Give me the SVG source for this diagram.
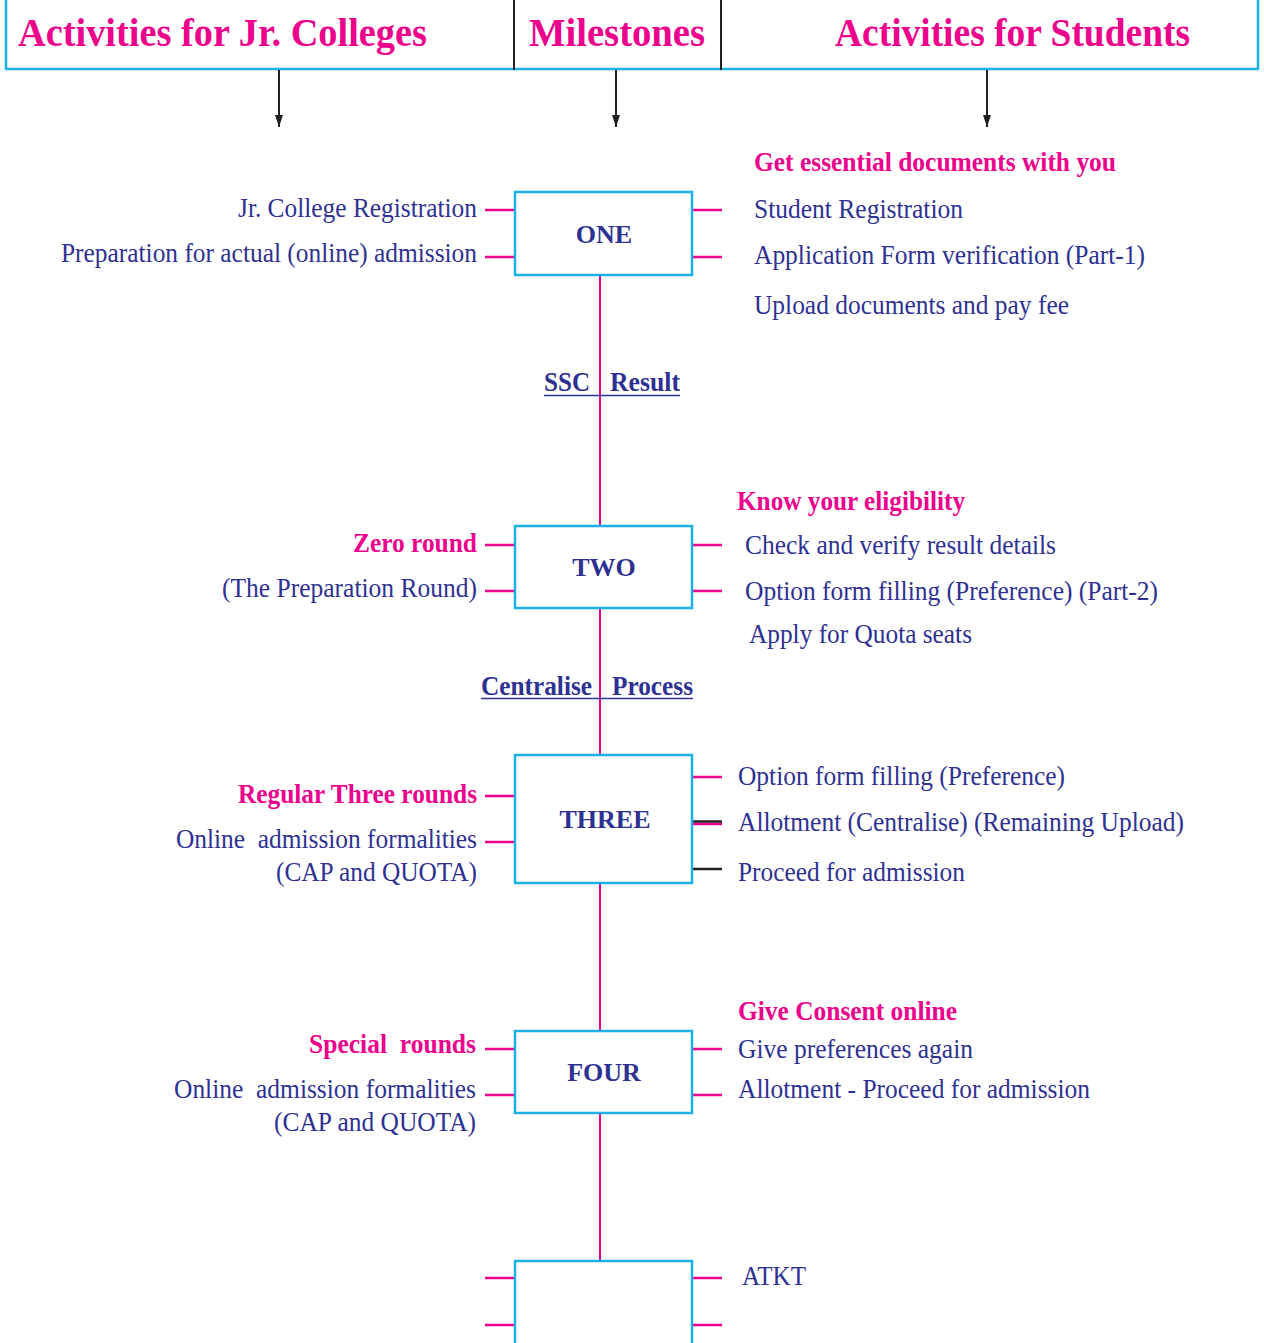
<svg xmlns="http://www.w3.org/2000/svg" width="1264" height="1343" viewBox="0 0 1264 1343">
<style>
text{white-space:pre}
.hd{font-family:"Liberation Serif",serif;font-weight:bold;font-size:39px;fill:#EC008C}
.t{font-family:"Liberation Serif",serif;font-size:26.5px;fill:#2E3192}
.p{font-family:"Liberation Serif",serif;font-weight:bold;font-size:26.5px;fill:#EC008C}
.b{font-family:"Liberation Serif",serif;font-weight:bold;font-size:26px;fill:#2E3192;text-anchor:middle}
.u{font-family:"Liberation Serif",serif;font-weight:bold;font-size:26.5px;fill:#2E3192}
.r{text-anchor:end}
.box{fill:#fff;stroke:#1BB0E6;stroke-width:2.5}
.stub{stroke:#EC008C;stroke-width:2.5}
.blk{stroke:#231F20;stroke-width:2.5}
.vl{stroke:#EC008C;stroke-width:2}
.arr{stroke:#231F20;stroke-width:2}
</style>
<defs>
<marker id="ah" viewBox="0 0 12 8" refX="12" refY="4" markerWidth="12" markerHeight="8" markerUnits="userSpaceOnUse" orient="auto">
<path d="M0,0 L12,4 L0,8 Z" fill="#231F20"/>
</marker>
</defs>
<rect width="1264" height="1343" fill="#fff"/>
<g id="header">
<rect x="6" y="-5" width="1252" height="74" fill="none" stroke="#1BB0E6" stroke-width="2.5"/>
<line x1="514" y1="0" x2="514" y2="70" stroke="#231F20" stroke-width="2"/>
<line x1="721" y1="0" x2="721" y2="70" stroke="#231F20" stroke-width="2"/>
<text class="hd" x="18" y="46" textLength="409" lengthAdjust="spacingAndGlyphs">Activities for Jr. Colleges</text>
<text class="hd" x="529" y="46" textLength="176" lengthAdjust="spacingAndGlyphs">Milestones</text>
<text class="hd" x="835" y="46" textLength="355" lengthAdjust="spacingAndGlyphs">Activities for Students</text>
</g>
<g id="connectors">
<line class="arr" x1="279" y1="70" x2="279" y2="127" marker-end="url(#ah)"/>
<line class="arr" x1="616" y1="70" x2="616" y2="127" marker-end="url(#ah)"/>
<line class="arr" x1="987" y1="70" x2="987" y2="127" marker-end="url(#ah)"/>
<line class="vl" x1="600" y1="275" x2="600" y2="526"/>
<line class="vl" x1="600" y1="608" x2="600" y2="755"/>
<line class="vl" x1="600" y1="883" x2="600" y2="1031"/>
<line class="vl" x1="600" y1="1113" x2="600" y2="1261"/>
<line class="stub" x1="485" y1="210" x2="515" y2="210"/>
<line class="stub" x1="485" y1="257" x2="515" y2="257"/>
<line class="stub" x1="692" y1="210" x2="722" y2="210"/>
<line class="stub" x1="692" y1="257" x2="722" y2="257"/>
<line class="stub" x1="485" y1="545" x2="515" y2="545"/>
<line class="stub" x1="485" y1="591" x2="515" y2="591"/>
<line class="stub" x1="692" y1="545" x2="722" y2="545"/>
<line class="stub" x1="692" y1="591" x2="722" y2="591"/>
<line class="stub" x1="485" y1="796" x2="515" y2="796"/>
<line class="stub" x1="485" y1="842" x2="515" y2="842"/>
<line class="stub" x1="692" y1="777" x2="722" y2="777"/>
<line class="stub" x1="692" y1="824" x2="722" y2="824"/>
<line class="blk" x1="692" y1="821.5" x2="722" y2="821.5"/>
<line class="blk" x1="692" y1="869" x2="722" y2="869"/>
<line class="stub" x1="485" y1="1049" x2="515" y2="1049"/>
<line class="stub" x1="485" y1="1095" x2="515" y2="1095"/>
<line class="stub" x1="692" y1="1049" x2="722" y2="1049"/>
<line class="stub" x1="692" y1="1095" x2="722" y2="1095"/>
<line class="stub" x1="485" y1="1278" x2="515" y2="1278"/>
<line class="stub" x1="485" y1="1325" x2="515" y2="1325"/>
<line class="stub" x1="692" y1="1278" x2="722" y2="1278"/>
<line class="stub" x1="692" y1="1325" x2="722" y2="1325"/>
</g>
<g id="node-one">
<rect class="box" x="515" y="192" width="177" height="83"/>
<text class="b" x="604" y="243">ONE</text>
</g>
<g id="node-two">
<rect class="box" x="515" y="526" width="177" height="82"/>
<text class="b" x="604" y="576">TWO</text>
</g>
<g id="node-three">
<rect class="box" x="515" y="755" width="177" height="128"/>
<text class="b" x="605" y="828">THREE</text>
</g>
<g id="node-four">
<rect class="box" x="515" y="1031" width="177" height="82"/>
<text class="b" x="604" y="1081">FOUR</text>
</g>
<g id="node-five">
<rect class="box" x="515" y="1261" width="177" height="84"/>
</g>
<g id="labels-one">
<text class="t r" x="477" y="217" textLength="239" lengthAdjust="spacingAndGlyphs">Jr. College Registration</text>
<text class="t r" x="477" y="262" textLength="416" lengthAdjust="spacingAndGlyphs">Preparation for actual (online) admission</text>
<text class="p" x="754" y="171" textLength="362" lengthAdjust="spacingAndGlyphs">Get essential documents with you</text>
<text class="t" x="754" y="218" textLength="209" lengthAdjust="spacingAndGlyphs">Student Registration</text>
<text class="t" x="754" y="264" textLength="391" lengthAdjust="spacingAndGlyphs">Application Form verification (Part-1)</text>
<text class="t" x="754" y="314" textLength="315" lengthAdjust="spacingAndGlyphs">Upload documents and pay fee</text>
</g>
<g id="milestone-ssc">
<text class="u" x="544" y="391" textLength="46" lengthAdjust="spacingAndGlyphs">SSC</text>
<text class="u" x="610" y="391" textLength="70" lengthAdjust="spacingAndGlyphs">Result</text>
<line x1="544" y1="395.5" x2="680" y2="395.5" stroke="#2E3192" stroke-width="1.5"/>
</g>
<g id="labels-two">
<text class="p r" x="477" y="552" textLength="124" lengthAdjust="spacingAndGlyphs">Zero round</text>
<text class="t r" x="477" y="597" textLength="255" lengthAdjust="spacingAndGlyphs">(The Preparation Round)</text>
<text class="p" x="737" y="510" textLength="228" lengthAdjust="spacingAndGlyphs">Know your eligibility</text>
<text class="t" x="745" y="554" textLength="311" lengthAdjust="spacingAndGlyphs">Check and verify result details</text>
<text class="t" x="745" y="600" textLength="413" lengthAdjust="spacingAndGlyphs">Option form filling (Preference) (Part-2)</text>
<text class="t" x="749" y="643" textLength="223" lengthAdjust="spacingAndGlyphs">Apply for Quota seats</text>
</g>
<g id="milestone-centralise">
<text class="u" x="481" y="695" textLength="111" lengthAdjust="spacingAndGlyphs">Centralise</text>
<text class="u" x="612" y="695" textLength="81" lengthAdjust="spacingAndGlyphs">Process</text>
<line x1="481" y1="698.5" x2="693" y2="698.5" stroke="#2E3192" stroke-width="1.5"/>
</g>
<g id="labels-three">
<text class="p r" x="477" y="803" textLength="239" lengthAdjust="spacingAndGlyphs">Regular Three rounds</text>
<text class="t r" x="477" y="848" textLength="301" lengthAdjust="spacingAndGlyphs">Online  admission formalities</text>
<text class="t r" x="477" y="881" textLength="201" lengthAdjust="spacingAndGlyphs">(CAP and QUOTA)</text>
<text class="t" x="738" y="785" textLength="327" lengthAdjust="spacingAndGlyphs">Option form filling (Preference)</text>
<text class="t" x="738" y="831" textLength="446" lengthAdjust="spacingAndGlyphs">Allotment (Centralise) (Remaining Upload)</text>
<text class="t" x="738" y="881" textLength="227" lengthAdjust="spacingAndGlyphs">Proceed for admission</text>
</g>
<g id="labels-four">
<text class="p r" x="476" y="1053" textLength="167" lengthAdjust="spacingAndGlyphs">Special  rounds</text>
<text class="t r" x="476" y="1098" textLength="302" lengthAdjust="spacingAndGlyphs">Online  admission formalities</text>
<text class="t r" x="476" y="1131" textLength="202" lengthAdjust="spacingAndGlyphs">(CAP and QUOTA)</text>
<text class="p" x="738" y="1020" textLength="219" lengthAdjust="spacingAndGlyphs">Give Consent online</text>
<text class="t" x="738" y="1058" textLength="235" lengthAdjust="spacingAndGlyphs">Give preferences again</text>
<text class="t" x="738" y="1098" textLength="352" lengthAdjust="spacingAndGlyphs">Allotment - Proceed for admission</text>
</g>
<g id="labels-five">
<text class="t" x="742" y="1285" textLength="64" lengthAdjust="spacingAndGlyphs">ATKT</text>
</g>
</svg>
